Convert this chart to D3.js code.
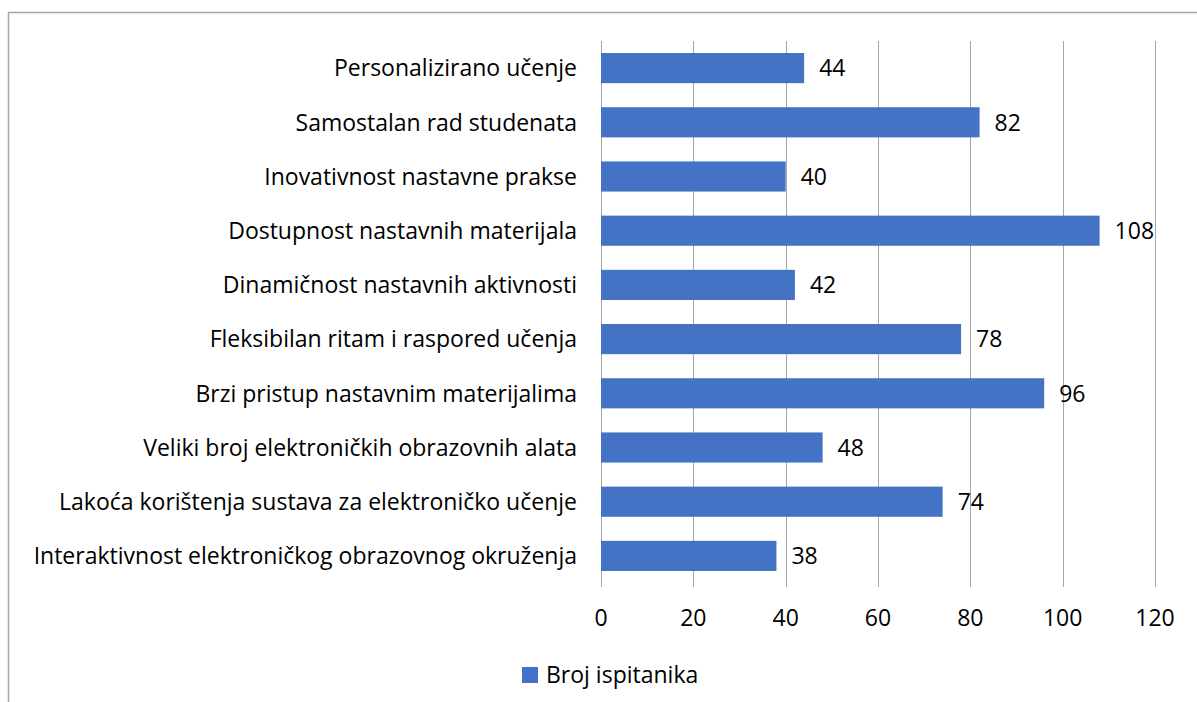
<!DOCTYPE html>
<html>
<head>
<meta charset="utf-8">
<script src="https://cdn.jsdelivr.net/npm/d3@7"></script>
<style>
  body { margin: 0; background: #fff; }
  svg { display: block; }
  text { font-family: "Open Sans", "Noto Sans", sans-serif; fill: #000; }
</style>
</head>
<body>
<svg id="chart" width="1197" height="702"></svg>
<script>
// categories, top to bottom
var categories = [
  "Personalizirano učenje",
  "Samostalan rad studenata",
  "Inovativnost nastavne prakse",
  "Dostupnost nastavnih materijala",
  "Dinamičnost nastavnih aktivnosti",
  "Fleksibilan ritam i raspored učenja",
  "Brzi pristup nastavnim materijalima",
  "Veliki broj elektroničkih obrazovnih alata",
  "Lakoća korištenja sustava za elektroničko učenje",
  "Interaktivnost elektroničkog obrazovnog okruženja"
];
var values = [44, 82, 40, 108, 42, 78, 96, 48, 74, 38];
var xTicks = [0, 20, 40, 60, 80, 100, 120];
var seriesName = "Broj ispitanika";

var svg = d3.select("#chart");
var W = 1197, H = 702;
var fs = "23px";

// outer chart frame (only top and left are visible in the crop)
svg.append("path")
  .attr("d", "M8.5," + H + "V12.5H" + W)
  .attr("fill", "none")
  .attr("stroke", "#a6a6a6")
  .attr("stroke-width", 1.5);

var plotTop = 41, plotH = 542;

var x = d3.scaleLinear().domain([0, 120]).range([601, 1155]);
var y = d3.scaleBand().domain(categories).range([plotTop, plotTop + plotH]).paddingInner(0.444).paddingOuter(0.222);

// gridlines (extend slightly below plot like tick marks)
svg.append("g")
  .selectAll("line")
  .data(xTicks)
  .enter().append("line")
    .attr("x1", function (d) { return Math.round(x(d)) + 0.5; })
    .attr("x2", function (d) { return Math.round(x(d)) + 0.5; })
    .attr("y1", plotTop)
    .attr("y2", plotTop + plotH + 4)
    .attr("stroke", "#a6a6a6")
    .attr("stroke-width", 1);

// bars
svg.append("g")
  .selectAll("rect")
  .data(values)
  .enter().append("rect")
    .attr("x", x(0))
    .attr("y", function (d, i) { return y(categories[i]); })
    .attr("width", function (d) { return x(d) - x(0); })
    .attr("height", y.bandwidth())
    .attr("fill", "#4472c4");

// value labels
svg.append("g")
  .selectAll("text")
  .data(values)
  .enter().append("text")
    .attr("x", function (d) { return x(d) + 15; })
    .attr("y", function (d, i) { return y(categories[i]) + y.bandwidth() / 2; })
    .attr("dy", "0.36em")
    .style("font-size", fs)
    .text(function (d) { return d; });

// category labels
svg.append("g")
  .selectAll("text")
  .data(categories)
  .enter().append("text")
    .attr("x", 577)
    .attr("y", function (d) { return y(d) + y.bandwidth() / 2; })
    .attr("dy", "0.36em")
    .attr("text-anchor", "end")
    .style("font-size", fs)
    .text(function (d) { return d; });

// x tick labels
svg.append("g")
  .selectAll("text")
  .data(xTicks)
  .enter().append("text")
    .attr("x", function (d) { return x(d); })
    .attr("y", 626)
    .attr("text-anchor", "middle")
    .style("font-size", fs)
    .text(function (d) { return d; });

// legend
var legend = svg.append("g").attr("transform", "translate(522,667)");
legend.append("rect").attr("width", 16).attr("height", 16).attr("fill", "#4472c4");
legend.append("text").attr("x", 24).attr("y", 8).attr("dy", "0.36em")
  .style("font-size", fs).text(seriesName);
</script>
</body>
</html>
